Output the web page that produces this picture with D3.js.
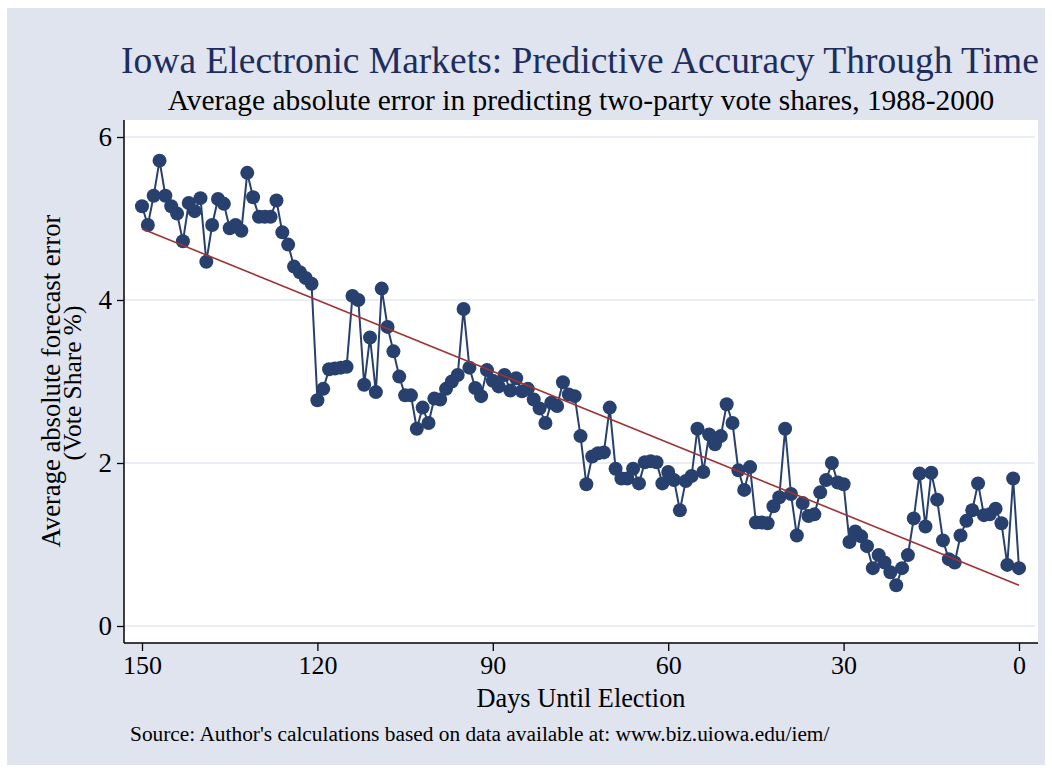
<!DOCTYPE html>
<html>
<head>
<meta charset="utf-8">
<script src="https://cdn.jsdelivr.net/npm/d3@7"></script>
<style>
  html, body { margin: 0; padding: 0; background: #ffffff; }
  svg { display: block; }
  text { font-family: "Liberation Serif", "Times New Roman", serif; }
</style>
</head>
<body>
<svg id="chart" width="1052" height="772"></svg>
<script>
// Days until election (150 down to 0)
const days = d3.range(150, -1, -1);
// Average absolute forecast error (vote share %), one value per day, from day 150 to day 0
const errors = [
  5.15, 4.92, 5.28, 5.71, 5.28, 5.15, 5.06, 4.72, 5.19, 5.09,
  5.25, 4.47, 4.92, 5.24, 5.18, 4.88, 4.92, 4.85, 5.56, 5.26,
  5.02, 5.02, 5.02, 5.22, 4.83, 4.68, 4.41, 4.34, 4.27, 4.20,
  2.77, 2.91, 3.15, 3.16, 3.17, 3.18, 4.05, 4.00, 2.96, 3.54,
  2.87, 4.14, 3.67, 3.37, 3.06, 2.83, 2.83, 2.42, 2.68, 2.49,
  2.79, 2.78, 2.91, 3.00, 3.08, 3.89, 3.17, 2.92, 2.82, 3.14,
  3.01, 2.94, 3.08, 2.89, 3.04, 2.88, 2.91, 2.78, 2.67, 2.49,
  2.74, 2.70, 2.99, 2.84, 2.82, 2.33, 1.74, 2.08, 2.12, 2.13,
  2.68, 1.93, 1.81, 1.81, 1.93, 1.75, 2.01, 2.02, 2.01, 1.75,
  1.89, 1.79, 1.42, 1.78, 1.84, 2.42, 1.89, 2.35, 2.23, 2.33,
  2.72, 2.49, 1.91, 1.67, 1.95, 1.27, 1.27, 1.26, 1.47, 1.58,
  2.42, 1.62, 1.11, 1.51, 1.35, 1.37, 1.64, 1.79, 2.00, 1.76,
  1.74, 1.03, 1.16, 1.10, 0.98, 0.71, 0.87, 0.78, 0.66, 0.50,
  0.71, 0.87, 1.32, 1.87, 1.22, 1.88, 1.55, 1.05, 0.82, 0.78,
  1.11, 1.29, 1.42, 1.75, 1.36, 1.37, 1.44, 1.26, 0.75, 1.81,
  0.71
];
const xTicks = [150, 120, 90, 60, 30, 0];
const yTicks = [0, 2, 4, 6];

const titleText = "Iowa Electronic Markets: Predictive Accuracy Through Time";
const subtitleText = "Average absolute error in predicting two-party vote shares, 1988-2000";
const yTitle1 = "Average absolute forecast error";
const yTitle2 = "(Vote Share %)";
const xTitle = "Days Until Election";
const sourceText = "Source: Author's calculations based on data available at: www.biz.uiowa.edu/iem/";

const data = days.map((d, i) => ({ day: d, err: errors[i] }));

const svg = d3.select("#chart");
const W = 1052, H = 772;

// outer graph region
svg.append("rect").attr("x", 0).attr("y", 0).attr("width", W).attr("height", H).attr("fill", "#ffffff");
svg.append("rect").attr("x", 7).attr("y", 8).attr("width", W - 14).attr("height", H - 15).attr("fill", "#dfe4ef");

const plot = { left: 124, right: 1038, top: 120, bottom: 643 };
svg.append("rect").attr("x", plot.left).attr("y", plot.top)
  .attr("width", plot.right - plot.left).attr("height", plot.bottom - plot.top)
  .attr("fill", "#ffffff");

const x = d3.scaleLinear().domain([150, 0]).range([142, 1019]);
const y = d3.scaleLinear().domain([0, 6]).range([626, 137]);

// gridlines
svg.append("g").selectAll("line").data(yTicks).join("line")
  .attr("x1", plot.left + 1).attr("x2", plot.right - 3)
  .attr("y1", d => y(d)).attr("y2", d => y(d))
  .attr("stroke", "#e2e7f1").attr("stroke-width", 1.5);

// fitted line (OLS of error on days)
const mx = d3.mean(data, d => d.day), my = d3.mean(data, d => d.err);
const slope = d3.sum(data, d => (d.day - mx) * (d.err - my)) / d3.sum(data, d => (d.day - mx) ** 2);
const intercept = my - slope * mx;
const fit = [150, 0].map(d => ({ day: d, err: intercept + slope * d }));

// connected series
svg.append("path").datum(data)
  .attr("fill", "none").attr("stroke", "#27406e").attr("stroke-width", 2)
  .attr("d", d3.line().x(d => x(d.day)).y(d => y(d.err)));

svg.append("g").selectAll("circle").data(data).join("circle")
  .attr("cx", d => x(d.day)).attr("cy", d => y(d.err)).attr("r", 7)
  .attr("fill", "#27406e");

svg.append("path").datum(fit)
  .attr("fill", "none").attr("stroke", "#9e3333").attr("stroke-width", 1.6)
  .attr("d", d3.line().x(d => x(d.day)).y(d => y(d.err)));

// axes
const xAxis = d3.axisBottom(x).tickValues(xTicks).tickSize(8).tickSizeOuter(0).tickPadding(5)
  .tickFormat(d3.format("d"));
const gx = svg.append("g").attr("transform", `translate(0,${plot.bottom})`).call(xAxis);
gx.select(".domain").attr("d", `M${plot.left},0H${plot.right}`).attr("stroke", "#000").attr("stroke-width", 1.5);
gx.selectAll(".tick line").attr("stroke", "#000").attr("stroke-width", 1.3);
gx.selectAll(".tick text").attr("font-size", 26).attr("fill", "#000")
  .attr("font-family", "Liberation Serif").attr("dy", "0.71em");

const yAxis = d3.axisLeft(y).tickValues(yTicks).tickSize(7).tickSizeOuter(0).tickPadding(5)
  .tickFormat(d3.format("d"));
const gy = svg.append("g").attr("transform", `translate(${plot.left},0)`).call(yAxis);
gy.select(".domain").attr("d", `M0,${plot.top}V${plot.bottom}`).attr("stroke", "#000").attr("stroke-width", 1.5);
gy.selectAll(".tick line").attr("stroke", "#000").attr("stroke-width", 1.3);
gy.selectAll(".tick text").attr("font-size", 27).attr("fill", "#000")
  .attr("font-family", "Liberation Serif");

// fit text width helper
function fitWidth(sel, target) {
  const fs = parseFloat(sel.attr("font-size"));
  const w = sel.node().getComputedTextLength();
  sel.attr("font-size", fs * target / w);
}

const t = svg.append("text").attr("x", 580).attr("y", 73).attr("text-anchor", "middle")
  .attr("font-size", 34).attr("fill", "#1e2d5c").text(titleText);
fitWidth(t, 918);

const st = svg.append("text").attr("x", 581).attr("y", 110).attr("text-anchor", "middle")
  .attr("font-size", 24).attr("fill", "#000").text(subtitleText);
fitWidth(st, 827);

const yt1 = svg.append("text").attr("transform", "translate(60,381) rotate(-90)")
  .attr("text-anchor", "middle").attr("font-size", 24).attr("fill", "#000").text(yTitle1);
fitWidth(yt1, 333);
const yt2 = svg.append("text").attr("transform", "translate(81,383) rotate(-90)")
  .attr("text-anchor", "middle").attr("font-size", 24).attr("fill", "#000").text(yTitle2);
fitWidth(yt2, 155);

const xt = svg.append("text").attr("x", 581).attr("y", 707).attr("text-anchor", "middle")
  .attr("font-size", 26).attr("fill", "#000").text(xTitle);
fitWidth(xt, 209);

const so = svg.append("text").attr("x", 130).attr("y", 741).attr("text-anchor", "start")
  .attr("font-size", 18).attr("fill", "#000").text(sourceText);
fitWidth(so, 700);
</script>
</body>
</html>
